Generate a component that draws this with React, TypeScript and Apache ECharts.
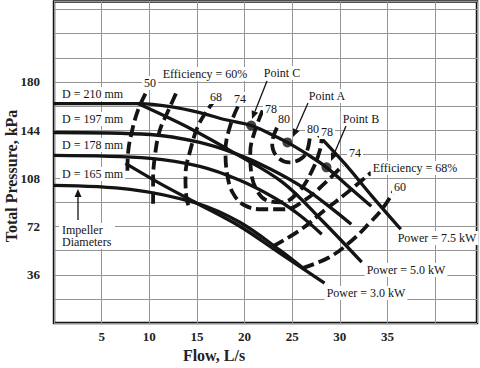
import React, { useEffect, useRef } from "react";
import * as echarts from "echarts";

// Axis tick labels
const xTickLabels = [5, 10, 15, 20, 25, 30, 35];
const yTickLabels = [36, 72, 108, 144, 180];

// Impeller head curves [flow L/s, pressure kPa]
const headD210 = [[0, 163.8], [9.0, 163.8], [12.2, 161.6], [15.3, 157.1], [17.9, 151.9], [20.7, 147.4], [22.6, 141.5], [24.5, 134.8], [26.6, 125.8], [28.6, 116.2], [31.0, 101.3], [33.3, 87.1]];
const headD197 = [[0, 142.2], [10.1, 140.7], [15.3, 134.8], [19.0, 126.6], [22.6, 115.4], [26.3, 100.5], [29.4, 84.1], [31.2, 73.7]];
const headD178 = [[0, 125.1], [10.1, 122.9], [15.3, 116.9], [19.5, 106.5], [23.2, 93.1], [25.8, 80.4], [28.1, 66.3]];
const headD165 = [[0, 102.8], [8.0, 99.8], [15.0, 89.4], [19.5, 75.2], [23.7, 54.4], [26.4, 39.5]];

// Power lines
const power75 = [[27.7, 140.7], [30.5, 119.1], [33.3, 95.3], [36.4, 70.0]];
const power50 = [[8.8, 163.8], [14.3, 145.2], [19.0, 126.6], [24.0, 105.0], [28.1, 76.7], [32.3, 45.4]];
const power30 = [[7.5, 119.1], [11.1, 104.2], [15.0, 89.4], [19.5, 72.2], [23.7, 52.1], [28.4, 29.8]];

// Iso-efficiency contours
const eff50 = [[9.6, 171.3], [8.8, 158.6], [8.2, 143.7], [7.8, 128.8], [7.7, 112.4]];
const eff60Left = [[12.8, 171.3], [12.0, 158.6], [11.1, 143.7], [10.6, 125.1], [10.4, 106.5], [10.4, 87.9]];
const eff60Right = [[26.1, 41.0], [28.9, 49.1], [31.3, 61.8], [33.1, 74.5], [34.5, 85.6], [35.9, 101.3]];
const eff68Left = [[17.0, 167.5], [15.3, 149.7], [14.3, 128.8], [13.8, 110.2], [13.9, 93.8], [14.2, 85.6]];
const eff68Right = [[23.0, 57.3], [25.8, 69.2], [28.4, 84.1], [30.8, 97.5], [33.3, 112.4]];
const eff74 = [[19.3, 161.6], [18.5, 147.4], [18.0, 128.8], [18.2, 110.2], [18.8, 96.8], [20.0, 87.9], [21.8, 84.9], [24.2, 84.9], [26.3, 91.6], [28.4, 104.2], [30.3, 117.6]];
const eff78 = [[21.9, 158.6], [21.1, 143.7], [20.6, 127.3], [20.7, 112.4], [21.3, 99.0], [22.3, 91.6], [23.9, 90.1], [25.8, 99.0], [27.1, 113.9], [27.9, 128.8], [28.1, 137.8]];
const eff80 = [[23.4, 145.9], [22.9, 134.0], [23.4, 124.3], [24.7, 119.9], [26.1, 123.6], [26.7, 131.8], [26.9, 145.2]];

// Operating points
const pointNames = ["C", "A", "B"];
const pointValues = [[20.7, 147.4], [24.5, 134.8], [28.6, 116.2]];

const FONT = "Liberation Serif";
const INK = "#141414";

function solid(data: number[][]) {
  return {
    type: "line", data, showSymbol: false, smooth: 0.35, silent: true,
    lineStyle: { color: INK, width: 3.3 }, z: 3,
  };
}
function dashed(data: number[][]) {
  return {
    type: "line", data, showSymbol: false, smooth: 0.4, silent: true,
    lineStyle: { color: INK, width: 3.8, type: [12, 5] }, z: 3,
  };
}

function label(text: string, x: number, y: number, align = "center", bg = true) {
  return {
    type: "text", x, y, z: 20,
    style: {
      text, fontFamily: FONT, fontSize: 12, fill: INK, align, verticalAlign: "middle",
      backgroundColor: bg ? "#fff" : undefined, padding: bg ? [1, 2] : 0,
    },
  };
}

function arrow(x1: number, y1: number, x2: number, y2: number) {
  const dx = x2 - x1, dy = y2 - y1, L = Math.hypot(dx, dy);
  const ux = dx / L, uy = dy / L, hl = 8, hw = 3.5;
  const bx = x2 - ux * hl, by = y2 - uy * hl;
  return [
    { type: "line", z: 21, shape: { x1, y1, x2: bx, y2: by }, style: { stroke: INK, lineWidth: 1.3 } },
    { type: "polygon", z: 21, shape: { points: [[x2, y2], [bx + uy * hw, by - ux * hw], [bx - uy * hw, by + ux * hw]] }, style: { fill: INK } },
  ];
}

export default function App() {
  const ref = useRef<HTMLDivElement>(null);
  useEffect(() => {
    if (!ref.current) return;
    const chart = echarts.init(ref.current, undefined, { renderer: "svg" });
    const option = {
      animation: false,
      backgroundColor: "#fff",
      grid: { left: 54, right: 2, top: 1.5, bottom: 45, show: true, borderColor: "#151515", borderWidth: 2.5, backgroundColor: "#fff" },
      xAxis: {
        type: "value", min: 0, max: 44.4, interval: 5,
        axisLine: { show: false }, axisTick: { show: false },
        splitLine: { show: true, lineStyle: { color: "#949494", width: 1 } },
        axisLabel: {
          formatter: (v: number) => (xTickLabels.includes(v) ? String(v) : ""),
          fontFamily: FONT, fontWeight: "bold", fontSize: 13, color: "#222", margin: 7,
        },
      },
      yAxis: {
        type: "value", min: 0, max: 240, interval: 18,
        axisLine: { show: false }, axisTick: { show: false },
        splitLine: { show: true, lineStyle: { color: "#949494", width: 1 } },
        axisLabel: {
          formatter: (v: number) => (yTickLabels.includes(v) ? String(v) : ""),
          fontFamily: FONT, fontWeight: "bold", fontSize: 13, color: "#222", margin: 14,
        },
      },
      series: [
        solid(headD210), solid(headD197), solid(headD178), solid(headD165),
        solid(power75), solid(power50), solid(power30),
        dashed(eff50), dashed(eff60Left), dashed(eff60Right), dashed(eff68Left), dashed(eff68Right),
        dashed(eff74), dashed(eff78), dashed(eff80),
        {
          type: "scatter", data: pointValues.map((p, i) => ({ name: pointNames[i], value: p })),
          symbolSize: 10, itemStyle: { color: INK }, z: 5, silent: true,
        },
      ],
      graphic: [
        {
          type: "text", x: 11, y: 176, rotation: Math.PI / 2, z: 20,
          style: { text: "Total Pressure, kPa", fontFamily: FONT, fontWeight: "bold", fontSize: 16, fill: "#222", align: "center", verticalAlign: "middle" },
        },
        {
          type: "text", x: 214, y: 355, z: 20,
          style: { text: "Flow, L/s", fontFamily: FONT, fontWeight: "bold", fontSize: 16, fill: "#222", align: "center", verticalAlign: "middle" },
        },
        label("D = 210 mm", 60, 94, "left"),
        label("D = 197 mm", 60, 119, "left"),
        label("D = 178 mm", 60, 145, "left"),
        label("D = 165 mm", 60, 174, "left"),
        { type: "rect", z: 19, shape: { x: 59, y: 223, width: 56, height: 26 }, style: { fill: "#fff" } },
        label("Impeller", 62, 229.5, "left", false),
        label("Diameters", 62, 242, "left", false),
        ...arrow(78, 220, 78, 189),
        label("Efficiency = 60%", 205, 74),
        label("50", 150, 83),
        label("68", 216, 97),
        label("74", 240, 99),
        label("78", 271, 109),
        label("80", 284, 119),
        label("80", 313, 129),
        label("78", 327, 132),
        label("74", 355, 153),
        label("Efficiency = 68%", 415, 168),
        label("60", 400, 187),
        label("Point C", 282, 73),
        label("Point A", 327, 96),
        label("Point B", 361, 119),
        ...arrow(267, 81, 252, 119),
        ...arrow(308, 103, 293, 137),
        ...arrow(346, 126, 331, 161),
        label("Power = 7.5 kW", 437, 238),
        label("Power = 5.0 kW", 406, 270),
        label("Power = 3.0 kW", 366, 293),
      ],
    };
    chart.setOption(option as any);
    return () => chart.dispose();
  }, []);
  return <div ref={ref} style={{ position: "absolute", left: 0, top: 0, width: 480, height: 368 }} />;
}
